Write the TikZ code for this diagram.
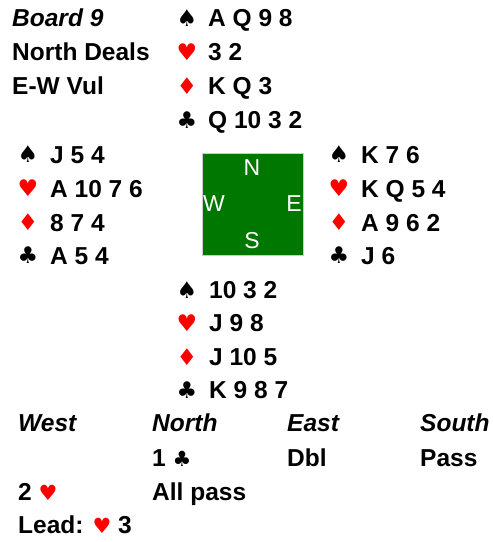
\documentclass[tikz,border=0pt]{standalone}
\usepackage{fontspec}
\setmainfont{Liberation Sans}
\newfontfamily\symfont{DejaVu Sans}
\definecolor{tablegreen}{RGB}{0,120,0}
\definecolor{suitred}{RGB}{255,0,0}
\tikzset{
  txt/.style={anchor=base west, inner sep=0pt, font=\fontsize{24.5}{28}\selectfont\bfseries},
  itxt/.style={anchor=base west, inner sep=0pt, font=\fontsize{24.5}{28}\selectfont\bfseries\itshape},
  suit/.style={anchor=center, inner sep=0pt, font=\fontsize{23}{26}\selectfont\symfont},
  redsuit/.style={suit, text=suitred},
  compass/.style={anchor=center, inner sep=0pt, text=white, font=\fontsize{23}{26}\selectfont},
  table/.style={draw=black!20, line width=0.6pt, fill=tablegreen, minimum width=101pt, minimum height=102pt, inner sep=0pt}
}
\newcommand{\rs}[1]{{\fontsize{21}{24}\selectfont\symfont\color{suitred}#1}}
\newcommand{\bs}[1]{{\fontsize{21}{24}\selectfont\symfont #1}}
\begin{document}
\begin{tikzpicture}[x=1pt,y=-1pt]
\useasboundingbox (0,0) rectangle (493,542);
% header
\node[itxt] (board) at (12,26.5) {Board 9};
\node[txt] (dealer) at (12,60.5) {North Deals};
\node[txt] (vul) at (12,94.5) {E-W Vul};
% North
\node[suit] (ns) at (187,18) {♠};
\node[txt] (nsc) at (208,26.5) {A Q 9 8};
\node[redsuit] (nh) at (187,52) {♥};
\node[txt] (nhc) at (208,60.5) {3 2};
\node[redsuit] (nd) at (187,86) {♦};
\node[txt] (ndc) at (208,94.5) {K Q 3};
\node[suit] (nc) at (187,120) {♣};
\node[txt] (ncc) at (208,128.5) {Q 10 3 2};
% West
\node[suit] (ws) at (28,154) {♠};
\node[txt] (wsc) at (50,163) {J 5 4};
\node[redsuit] (wh) at (28,188) {♥};
\node[txt] (whc) at (50,197) {A 10 7 6};
\node[redsuit] (wd) at (28,222) {♦};
\node[txt] (wdc) at (50,231) {8 7 4};
\node[suit] (wc) at (28,255) {♣};
\node[txt] (wcc) at (50,264) {A 5 4};
% East
\node[suit] (es) at (339,154) {♠};
\node[txt] (esc) at (361,163) {K 7 6};
\node[redsuit] (eh) at (339,188) {♥};
\node[txt] (ehc) at (361,197) {K Q 5 4};
\node[redsuit] (ed) at (339,222) {♦};
\node[txt] (edc) at (361,231) {A 9 6 2};
\node[suit] (ec) at (339,255) {♣};
\node[txt] (ecc) at (361,264) {J 6};
% table
\node[table] (tbl) at (252.5,204) {};
\node[compass] (cn) at (252,168) {N};
\node[compass] (cw) at (214,204) {W};
\node[compass] (ce) at (294,204) {E};
\node[compass] (cs) at (252,240.5) {S};
% South
\node[suit] (ss) at (187,290) {♠};
\node[txt] (ssc) at (209,298.5) {10 3 2};
\node[redsuit] (sh) at (187,323) {♥};
\node[txt] (shc) at (209,331.5) {J 9 8};
\node[redsuit] (sd) at (187,357) {♦};
\node[txt] (sdc) at (209,365.5) {J 10 5};
\node[suit] (sc) at (187,390) {♣};
\node[txt] (scc) at (209,398.5) {K 9 8 7};
% bidding
\node[itxt] (bw) at (18,431.5) {West};
\node[itxt] (bn) at (152,431.5) {North};
\node[itxt] (be) at (287,431.5) {East};
\node[itxt] (bs) at (420,431.5) {South};
\node[txt] (b1) at (152,466.5) {1 \bs{♣}};
\node[txt] (b2) at (287,466.5) {Dbl};
\node[txt] (b3) at (420,466.5) {Pass};
\node[txt] (b4) at (18,500.5) {2 \rs{♥}};
\node[txt] (b5) at (152,500.5) {All pass};
\node[txt] (lead) at (18,533.5) {Lead: \rs{♥} 3};
\end{tikzpicture}
\end{document}
